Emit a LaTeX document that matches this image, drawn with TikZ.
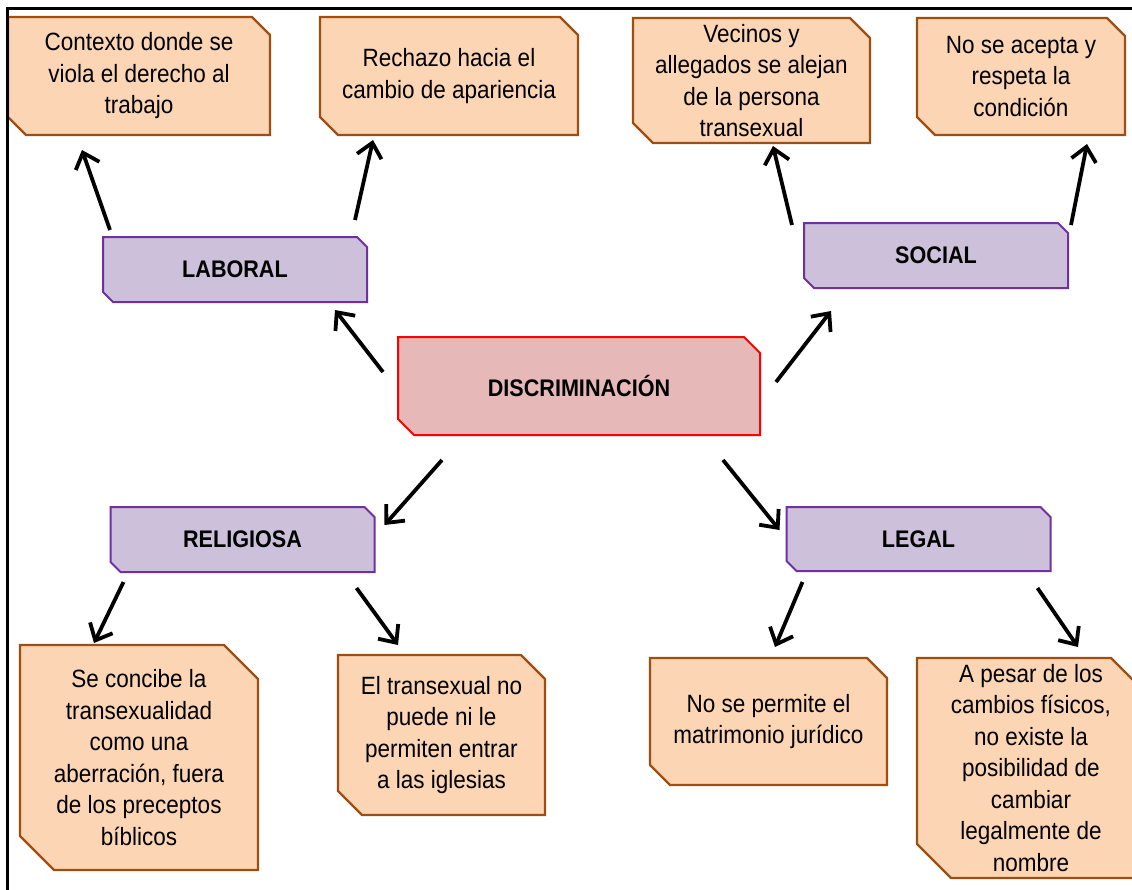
\documentclass[tikz,border=0pt]{standalone}
\usepackage{fontspec}
\setmainfont{Liberation Sans}[FakeStretch=0.9]
\usetikzlibrary{arrows.meta,backgrounds}

\definecolor{pielfondo}{RGB}{252,213,180}
\definecolor{pielborde}{RGB}{160,78,16}
\definecolor{lilafondo}{RGB}{204,192,218}
\definecolor{lilaborde}{RGB}{112,48,160}
\definecolor{rosafondo}{RGB}{230,184,183}
\definecolor{rojoborde}{RGB}{255,0,0}

\newcommand{\recorte}[3]{\draw[#1] (#2.north west) -- ([xshift=-#3]#2.north east) -- ([yshift=-#3]#2.north east) -- (#2.south east) -- ([xshift=#3]#2.south west) -- ([yshift=#3]#2.south west) -- cycle;}

\begin{document}
\begin{tikzpicture}[x=0.5pt,y=-0.5pt,
	caja/.style={rectangle, align=center, inner sep=0pt, outer sep=0pt},
	idea/.style={caja, font=\fontsize{12.5}{15.75}\selectfont},
	rama/.style={caja, font=\bfseries\fontsize{12}{14}\selectfont, minimum width=132pt, minimum height=32.5pt},
	bordeidea/.style={draw=pielborde, fill=pielfondo, line width=1.2pt},
	borderama/.style={draw=lilaborde, fill=lilafondo, line width=1pt},
	bordecentro/.style={draw=rojoborde, fill=rosafondo, line width=1pt},
	flecha/.style={line width=1.9pt, -{Straight Barb[length=7pt,width=12.5pt]}}]
		
		\useasboundingbox (0,0) rectangle (1132,890);
		\draw[line width=1.5pt] (7,890) -- (7,8) -- (1132,8);
		
		\node [caja, font=\bfseries\fontsize{12}{14}\selectfont, minimum width=181pt, minimum height=49pt] (disc) at (579,386) {DISCRIMINACIÓN};
		
		\node [rama] (laboral) at (235,269.5) {LABORAL};
		\node [rama] (social) at (936,255.5) {SOCIAL};
		\node [rama] (relig) at (242.5,539.5) {RELIGIOSA};
		\node [rama, minimum height=32pt] (legal) at (918.5,539) {LEGAL};
		
		\node [idea, minimum width=131pt, minimum height=59pt] (ctx) at (139,76) {Contexto donde se\\viola el derecho al\\trabajo};
		\node [idea, minimum width=129pt, minimum height=59pt] (rech) at (449,76) {Rechazo hacia el\\cambio de apariencia};
		\node [idea, minimum width=118.5pt, minimum height=62.5pt] (vec) at (751.5,80.5) {Vecinos y\\allegados se alejan\\de la persona\\transexual};
		\node [idea, minimum width=104pt, minimum height=58.5pt] (acep) at (1021,76.5) {No se acepta y\\respeta la\\condición};
		
		\node [idea, minimum width=119pt, minimum height=112.5pt] (conc) at (139,757.5) {Se concibe la\\transexualidad\\como una\\aberración, fuera\\de los preceptos\\bíblicos};
		\node [idea, minimum width=103.5pt, minimum height=80pt] (igl) at (441.5,735) {El transexual no\\puede ni le\\permiten entrar\\a las iglesias};
		\node [idea, minimum width=118.5pt, minimum height=63.5pt] (matr) at (768.5,721.5) {No se permite el\\matrimonio jurídico};
		\node [idea, minimum width=114pt, minimum height=110pt] (nomb) at (1031,768) {A pesar de los\\cambios físicos,\\no existe la\\posibilidad de\\cambiar\\legalmente de\\nombre};
		
		\begin{scope}[on background layer]
			\recorte{bordecentro}{disc}{8pt}
			\foreach \rama in {laboral,social,relig,legal}
				{\recorte{borderama}{\rama}{5pt}}
			\foreach \idea/\corte in {ctx/9pt,rech/9pt,vec/10pt,acep/9pt,conc/17pt,igl/12pt,matr/10pt,nomb/17pt}
				{\recorte{bordeidea}{\idea}{\corte}}
		\end{scope}
		
		\draw[flecha] ([shift={(-15,35)}]disc.north west) -- ([shift={(-32,8)}]laboral.south east);
		\draw[flecha] ([shift={(16,45)}]disc.north east) -- ([shift={(27,23)}]social.south west);
		\draw[flecha] ([shift={(44,25)}]disc.south west) -- ([shift={(10,18)}]relig.north east);
		\draw[flecha] ([shift={(-37,25)}]disc.south east) -- ([shift={(-7,23)}]legal.north west);
		
		\draw[flecha] ([shift={(7,-7)}]laboral.north west) -- ([shift={(74,15)}]ctx.south west);
		\draw[flecha] ([shift={(-12,-17)}]laboral.north east) -- ([shift={(53,5)}]rech.south west);
		\draw[flecha] ([shift={(-12,2)}]social.north west) -- ([shift={(140,3)}]vec.south west);
		\draw[flecha] ([shift={(3,2)}]social.north east) -- ([shift={(-38,9)}]acep.south east);
		
		\draw[flecha] ([shift={(13,10)}]relig.south west) -- ([shift={(74,-2)}]conc.north west);
		\draw[flecha] ([shift={(-18,16)}]relig.south east) -- ([shift={(60,-10)}]igl.north west);
		\draw[flecha] ([shift={(16,11)}]legal.south west) -- ([shift={(125,-11)}]matr.north west);
		\draw[flecha] ([shift={(-13,17)}]legal.south east) -- ([shift={(161,-11)}]nomb.north west);
		
	\end{tikzpicture}
\end{document}
